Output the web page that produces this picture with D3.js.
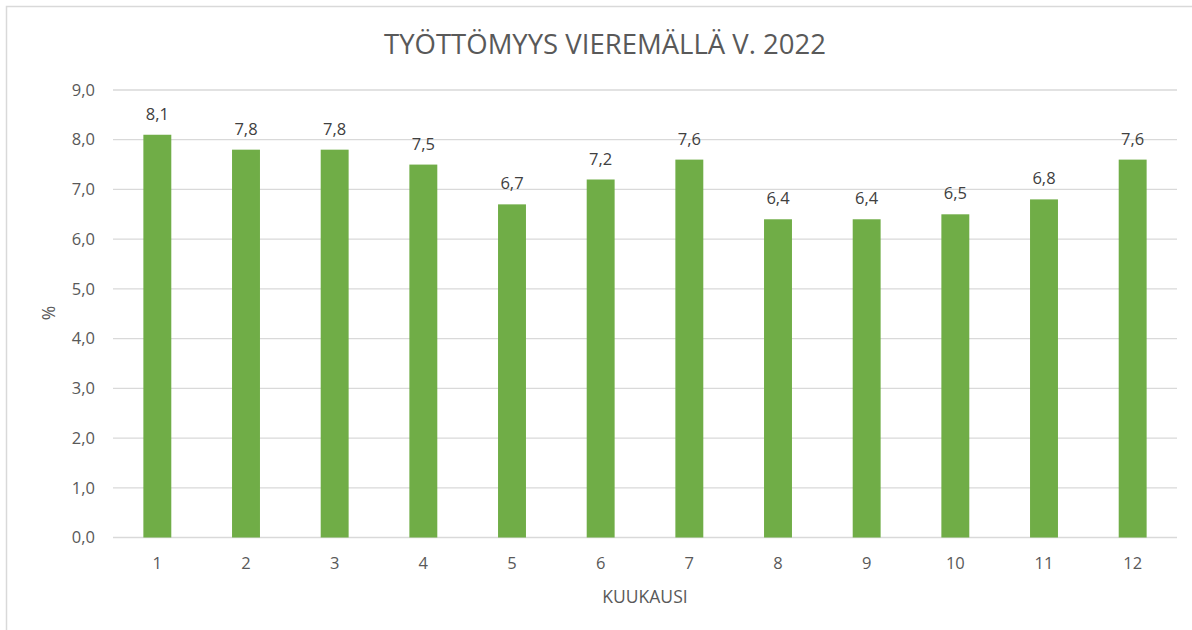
<!DOCTYPE html>
<html>
<head>
<meta charset="utf-8">
<script src="https://cdn.jsdelivr.net/npm/d3@7"></script>
<style>
  body { margin: 0; background: #fff; }
  svg { display: block; font-family: "Open Sans", sans-serif; }
</style>
</head>
<body>
<svg id="chart" width="1192" height="630"></svg>
<script>
const months = ["1", "2", "3", "4", "5", "6", "7", "8", "9", "10", "11", "12"];
const rates = [8.1, 7.8, 7.8, 7.5, 6.7, 7.2, 7.6, 6.4, 6.4, 6.5, 6.8, 7.6];
const yTicks = [0, 1, 2, 3, 4, 5, 6, 7, 8, 9];

const svg = d3.select("#chart");
const fmt = (v) => d3.format(".1f")(v).replace(".", ",");

// chart border (runs off the right/bottom edge like the screenshot)
svg.append("rect")
  .attr("x", 6.5).attr("y", 6.5)
  .attr("width", 1200).attr("height", 640)
  .attr("fill", "#fff")
  .attr("stroke", "#d9d9d9")
  .attr("stroke-width", 1.5);

const x = d3.scaleBand().domain(months).range([113, 1177]).padding(0);
const y = d3.scaleLinear().domain([0, 9]).range([537.5, 90]);
const barW = x.bandwidth() * 0.315;

// gridlines
svg.append("g")
  .selectAll("line")
  .data(yTicks)
  .join("line")
  .attr("x1", 113).attr("x2", 1177)
  .attr("y1", (d) => y(d)).attr("y2", (d) => y(d))
  .attr("stroke", "#d9d9d9")
  .attr("stroke-width", 1.3);

// y labels
svg.append("g")
  .selectAll("text")
  .data(yTicks)
  .join("text")
  .attr("x", 95)
  .attr("y", (d) => y(d))
  .attr("dy", "0.35em")
  .attr("text-anchor", "end")
  .attr("font-size", 16.5)
  .attr("fill", "#595959")
  .text(fmt);

// bars
svg.append("g")
  .selectAll("rect")
  .data(rates)
  .join("rect")
  .attr("x", (d, i) => x(months[i]) + (x.bandwidth() - barW) / 2)
  .attr("y", (d) => y(d))
  .attr("width", barW)
  .attr("height", (d) => y(0) - y(d))
  .attr("fill", "#70ad47");

// data labels
svg.append("g")
  .selectAll("text")
  .data(rates)
  .join("text")
  .attr("x", (d, i) => x(months[i]) + x.bandwidth() / 2)
  .attr("y", (d) => y(d) - 15)
  .attr("text-anchor", "middle")
  .attr("font-size", 16.5)
  .attr("fill", "#404040")
  .text(fmt);

// x labels
svg.append("g")
  .selectAll("text")
  .data(months)
  .join("text")
  .attr("x", (d) => x(d) + x.bandwidth() / 2)
  .attr("y", 569)
  .attr("text-anchor", "middle")
  .attr("font-size", 16.5)
  .attr("fill", "#595959")
  .text((d) => d);

// axis titles
svg.append("text")
  .attr("x", 645).attr("y", 603)
  .attr("text-anchor", "middle")
  .attr("font-size", 17.5)
  .attr("fill", "#595959")
  .text("KUUKAUSI");

svg.append("text")
  .attr("transform", "translate(55,313) rotate(-90)")
  .attr("text-anchor", "middle")
  .attr("font-size", 17.5)
  .attr("fill", "#595959")
  .text("%");

// title
svg.append("text")
  .attr("x", 605).attr("y", 54)
  .attr("text-anchor", "middle")
  .attr("font-size", 27.5)
  .attr("fill", "#595959")
  .text("TYÖTTÖMYYS VIEREMÄLLÄ V. 2022");
</script>
</body>
</html>
